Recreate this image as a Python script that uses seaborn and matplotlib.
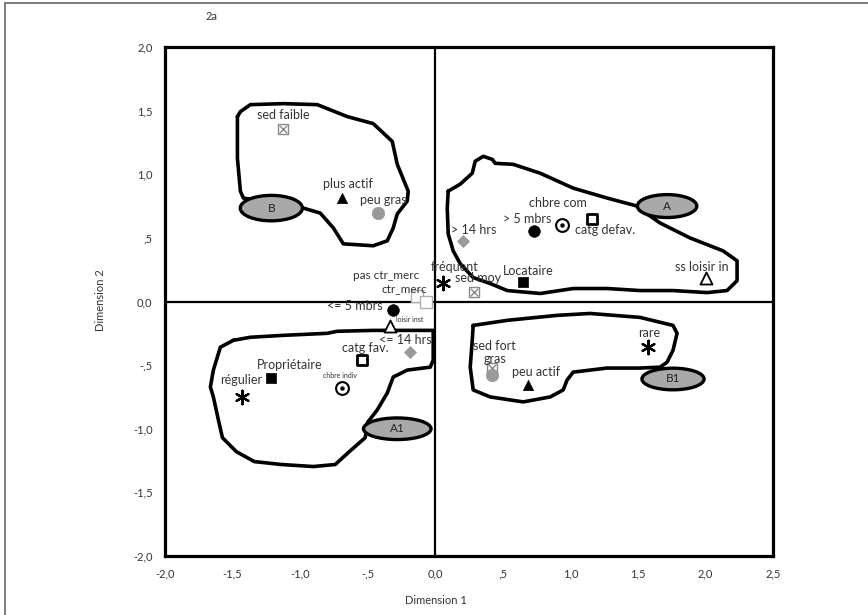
import numpy as np
import pandas as pd
import matplotlib
matplotlib.use('Agg')
import matplotlib.pyplot as plt
from matplotlib.patches import Ellipse
from matplotlib.lines import Line2D
import seaborn as sns

# ---------- Data ----------
labels = ['sed faible', 'plus actif', 'peu gras', '> 14 hrs', '> 5 mbrs', 'chbre com',
          'catg defav.', 'ss loisir in', 'Locataire', 'fréquent', 'sed moy',
          'pas ctr_merc', 'ctr_merc', '<= 5 mbrs', 'loisir inst', '<= 14 hrs',
          'catg fav.', 'Propriétaire', 'chbre indiv', 'régulier',
          'sed fort', 'gras', 'peu actif', 'rare']
dim1 = [-1.124, -0.688, -0.422, 0.207, 0.732, 0.939,
        1.161, 2.004, 0.651, 0.059, 0.288,
        -0.133, -0.067, -0.311, -0.333, -0.185,
        -0.540, -1.213, -0.688, -1.428,
        0.422, 0.422, 0.688, 1.575]
dim2 = [1.359, 0.813, 0.695, 0.477, 0.555, 0.602,
        0.648, 0.188, 0.156, 0.148, 0.078,
        0.047, 0.000, -0.070, -0.195, -0.398,
        -0.461, -0.602, -0.680, -0.750,
        -0.523, -0.578, -0.656, -0.359]
kinds = ['sed', 'actif', 'gras', 'hrs', 'mbrs', 'chbre',
         'catg', 'loisir', 'logement', 'freq', 'sed',
         'ctr', 'ctr', 'mbrs', 'loisir', 'hrs',
         'catg', 'logement', 'chbre', 'freq',
         'sed', 'gras', 'actif', 'freq']

# group ellipses
grp_names = ['B', 'A', 'A1', 'B1']
grp_x = [-1.213, 1.716, -0.281, 1.760]
grp_y = [0.734, 0.750, -1.000, -0.609]
grp_w = [0.46, 0.44, 0.50, 0.46]
grp_h = [0.20, 0.18, 0.17, 0.17]

# hand-drawn cluster outlines
outline_b_x = [-1.464, -1.442, -1.368, -1.124, -0.873, -0.651, -0.459, -0.318, -0.281, -0.200,
               -0.207, -0.281, -0.311, -0.355, -0.459, -0.680, -0.754, -0.851, -0.976, -1.420,
               -1.442, -1.464]
outline_b_y = [1.453, 1.492, 1.547, 1.555, 1.547, 1.453, 1.398, 1.258, 1.078, 0.867,
               0.789, 0.688, 0.578, 0.477, 0.438, 0.453, 0.578, 0.695, 0.734, 0.813,
               0.867, 1.125]
outline_a_x = [0.096, 0.185, 0.274, 0.296, 0.355, 0.422, 0.444, 0.577, 0.777, 1.021,
               1.272, 1.494, 1.568, 1.664, 1.885, 2.130, 2.234, 2.234, 2.160, 2.012,
               1.760, 1.516, 1.272, 1.021, 0.777, 0.533, 0.407, 0.281, 0.185, 0.133,
               0.096, 0.089]
outline_a_y = [0.867, 0.922, 1.008, 1.102, 1.141, 1.117, 1.086, 1.078, 1.008, 0.891,
               0.813, 0.750, 0.688, 0.617, 0.500, 0.398, 0.320, 0.164, 0.086, 0.070,
               0.086, 0.086, 0.102, 0.102, 0.063, 0.086, 0.141, 0.188, 0.297, 0.398,
               0.531, 0.734]
outline_a1_x = [-1.494, -1.368, -1.124, -0.799, -0.725, -0.459, -0.015, -0.015, -0.037, -0.207,
                -0.311, -0.355, -0.429, -0.503, -0.518, -0.636, -0.740, -0.902, -1.139, -1.339,
                -1.472, -1.575, -1.605, -1.642, -1.664, -1.642, -1.590]
outline_a1_y = [-0.305, -0.281, -0.266, -0.250, -0.234, -0.227, -0.227, -0.461, -0.516, -0.539,
                -0.594, -0.719, -0.852, -0.953, -1.070, -1.180, -1.281, -1.297, -1.281, -1.258,
                -1.180, -1.070, -0.930, -0.750, -0.672, -0.539, -0.359]
outline_b1_x = [0.281, 0.533, 0.902, 1.146, 1.516, 1.760, 1.790, 1.760, 1.716, 1.664,
                1.516, 1.272, 1.021, 0.976, 0.947, 0.851, 0.651, 0.407, 0.281, 0.259, 0.274]
outline_b1_y = [-0.188, -0.148, -0.109, -0.094, -0.125, -0.188, -0.250, -0.383, -0.477, -0.516,
                -0.523, -0.523, -0.555, -0.617, -0.695, -0.750, -0.789, -0.750, -0.695, -0.516,
                -0.305]

x_ticks = [-2.0, -1.5, -1.0, -0.5, 0.0, 0.5, 1.0, 1.5, 2.0, 2.5]
x_ticklabels = ['-2,0', '-1,5', '-1,0', '-,5', '0,0', ',5', '1,0', '1,5', '2,0', '2,5']
y_ticks = [-2.0, -1.5, -1.0, -0.5, 0.0, 0.5, 1.0, 1.5, 2.0]
y_ticklabels = ['-2,0', '-1,5', '-1,0', '-,5', '0,0', ',5', '1,0', '1,5', '2,0']

df = pd.DataFrame({'label': labels, 'x': dim1, 'y': dim2, 'kind': kinds})

# ---------- Styles ----------
GRAY = '#9a9a9a'
ast = (6, 2, 0)
marker_styles = {
    'sed':      [dict(marker='s', s=60, facecolor='white', edgecolor='#8a8a8a', linewidth=1.0),
                 dict(marker='x', s=30, color='#8a8a8a', linewidth=1.0)],
    'actif':    [dict(marker='^', s=55, color='black', edgecolor='black', linewidth=0.5)],
    'gras':     [dict(marker='o', s=80, color=GRAY, edgecolor=GRAY, linewidth=0.5)],
    'hrs':      [dict(marker='D', s=38, color=GRAY, edgecolor=GRAY, linewidth=0.5)],
    'mbrs':     [dict(marker='o', s=70, color='black', edgecolor='black', linewidth=0.5)],
    'chbre':    [dict(marker='o', s=85, facecolor='white', edgecolor='black', linewidth=1.5),
                 dict(marker='o', s=8, color='black', edgecolor='black', linewidth=0.3)],
    'catg':     [dict(marker='s', s=48, facecolor='white', edgecolor='black', linewidth=2.0)],
    'loisir':   [dict(marker='^', s=75, facecolor='white', edgecolor='black', linewidth=1.3)],
    'logement': [dict(marker='s', s=45, color='black', edgecolor='black', linewidth=0.5)],
    'freq':     [dict(marker=ast, s=95, color='black', edgecolor='black', linewidth=1.6)],
    'ctr':      [dict(marker='s', s=75, facecolor='white', edgecolor='#b0b0b0', linewidth=1.0)],
}
# text offsets in pixels relative to the marker (dx, dy)
label_offsets = {
    'sed faible': (0, 14), 'plus actif': (6, 14), 'peu gras': (5, 13),
    '> 14 hrs': (10, 11), '> 5 mbrs': (-7, 12), 'chbre com': (-4, 22),
    'catg defav.': (13, -11), 'ss loisir in': (-4, 11), 'Locataire': (5, 11),
    'fréquent': (11, 16), 'sed moy': (4, 14), 'pas ctr_merc': (-31, 20),
    'ctr_merc': (-22, 13), '<= 5 mbrs': (-38, 4), 'loisir inst': (19, 7),
    '<= 14 hrs': (-5, 12), 'catg fav.': (3, 12), 'Propriétaire': (18, 13),
    'chbre indiv': (-2, 13), 'régulier': (-1, 17), 'sed fort': (2, 22),
    'gras': (3, 16), 'peu actif': (8, 13), 'rare': (1, 14),
}
small_labels = {'loisir inst', 'chbre indiv'}
tight_labels = {'pas ctr_merc', 'ctr_merc'}

# ---------- Plot ----------
sns.set_style('white')
plt.rcParams['font.family'] = ['Lato', 'DejaVu Sans']

fig = plt.figure(figsize=(8.68, 6.15), dpi=100)
ax = fig.add_axes([165 / 868, 1 - 556 / 615, 608 / 868, 509 / 615])

# outlines
for ox, oy in [(outline_b_x, outline_b_y), (outline_a_x, outline_a_y),
               (outline_a1_x, outline_a1_y), (outline_b1_x, outline_b1_y)]:
    ax.plot(ox + ox[:1], oy + oy[:1], color='black', lw=2.6,
            solid_joinstyle='round', solid_capstyle='round', zorder=2)

# group ellipses
for name, gx, gy, gw, gh in zip(grp_names, grp_x, grp_y, grp_w, grp_h):
    ax.add_patch(Ellipse((gx, gy), gw, gh, facecolor='#a9a9a9', edgecolor='black',
                         lw=2.4, zorder=3))
    ax.text(gx, gy, name, ha='center', va='center', fontsize=8.5, color='#222', zorder=4)

# points
for kind, styles in marker_styles.items():
    sub = df[df['kind'] == kind]
    for st in styles:
        sns.scatterplot(data=sub, x='x', y='y', ax=ax, legend=False, zorder=5, **st)

# point labels
for _, row in df.iterrows():
    dx, dy = label_offsets[row['label']]
    if row['label'] in small_labels:
        fs = 5
    elif row['label'] in tight_labels:
        fs = 8.5
    else:
        fs = 9
    ax.annotate(row['label'], (row['x'], row['y']), xytext=(dx, dy),
                textcoords='offset pixels', ha='center', va='center',
                fontsize=fs, color='#333', zorder=6)

# zero lines
ax.axhline(0, color='black', lw=1.6, zorder=1)
ax.axvline(0, color='black', lw=1.6, zorder=1)

ax.set_xlim(-2.0, 2.5)
ax.set_ylim(-2.0, 2.0)
ax.set_xticks(x_ticks)
ax.set_xticklabels(x_ticklabels)
ax.set_yticks(y_ticks)
ax.set_yticklabels(y_ticklabels)
ax.tick_params(direction='inout', length=4, width=3, color='black', labelsize=8,
               labelcolor='#333', pad=7)
for sp in ax.spines.values():
    sp.set_visible(True)
    sp.set_color('black')
    sp.set_linewidth(2.3)
ax.set_xlabel('')
ax.set_ylabel('')

fig.text(436 / 868, 1 - 600 / 615, 'Dimension 1', ha='center', va='center', fontsize=8, color='#333')
fig.text(101 / 868, 1 - 300 / 615, 'Dimension 2', ha='center', va='center', rotation=90,
         fontsize=8, color='#333')
fig.text(212 / 868, 1 - 17 / 615, '2a', ha='center', va='center', fontsize=8, color='#333')

# thin frame around the figure
fig.add_artist(Line2D([4.5 / 868, 1.0], [1 - 2.5 / 615, 1 - 2.5 / 615], color='#666', lw=1.2))
fig.add_artist(Line2D([4.5 / 868, 4.5 / 868], [0.0, 1 - 2.5 / 615], color='#666', lw=1.2))

fig.savefig('out.png', dpi=100)
plt.close(fig)
